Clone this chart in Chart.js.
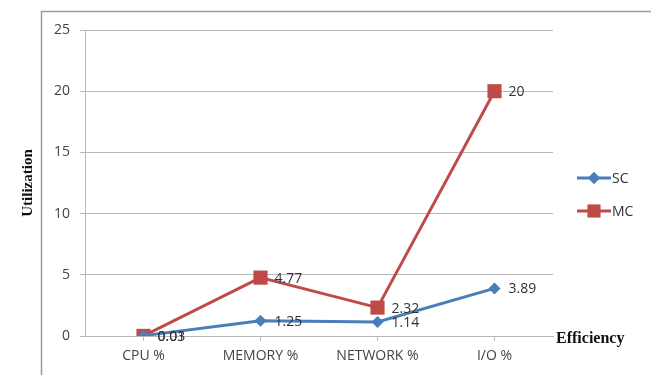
<!DOCTYPE html>
<html lang="en">
<head>
    <meta charset="UTF-8">
    <title>Utilization vs Efficiency</title>
    <script src="https://cdn.jsdelivr.net/npm/chart.js"></script>
    <style>
        html, body {
            margin: 0;
            padding: 0;
            background: #ffffff;
        }

        .chart-box {
            position: relative;
            width: 651px;
            height: 375px;
        }
    </style>
</head>
<body>
    <div class="chart-box">
        <canvas id="chart" width="651" height="375"></canvas>
    </div>

    <script>
        const categories = ["CPU %", "MEMORY %", "NETWORK %", "I/O %"];
        const scValues = [0.03, 1.25, 1.14, 3.89];
        const mcValues = [0.01, 4.77, 2.32, 20];
        const yTicks = [0, 5, 10, 15, 20, 25];

        const blue = "#4a7ebb";
        const red = "#be4b48";
        const gridColor = "#b8b8b8";
        const tickFont = { family: "'Open Sans', 'Liberation Sans', sans-serif", size: 14 };

        // frame, value labels, legend and the "Efficiency" label
        const extras = {
            id: "extras",
            beforeDraw(chart) {
                const ctx = chart.ctx;
                ctx.save();
                ctx.strokeStyle = "#9a9a9a";
                ctx.lineWidth = 1.5;
                ctx.beginPath();
                ctx.moveTo(41.5, 375);
                ctx.lineTo(41.5, 11.5);
                ctx.lineTo(651, 11.5);
                ctx.stroke();
                ctx.restore();
            },
            afterDatasetsDraw(chart) {
                const ctx = chart.ctx;
                ctx.save();
                ctx.font = "14px 'Open Sans', 'Liberation Sans', sans-serif";
                ctx.fillStyle = "#333";
                ctx.textAlign = "left";
                ctx.textBaseline = "middle";
                chart.data.datasets.forEach((ds, i) => {
                    chart.getDatasetMeta(i).data.forEach((pt, j) => {
                        ctx.fillText(ds.data[j].toFixed(ds.data[j] >= 10 ? 0 : 2), pt.x + 14, pt.y + 1);
                    });
                });

                // legend
                const items = [
                    { label: "SC", color: blue, style: "rectRot", radius: 6, y: 178 },
                    { label: "MC", color: red, style: "rect", radius: 9, y: 211 }
                ];
                items.forEach((it) => {
                    ctx.strokeStyle = it.color;
                    ctx.lineWidth = 3;
                    ctx.beginPath();
                    ctx.moveTo(577, it.y);
                    ctx.lineTo(611, it.y);
                    ctx.stroke();
                    ctx.fillStyle = it.color;
                    Chart.helpers.drawPoint(ctx, { pointStyle: it.style, radius: it.radius, rotation: 0, borderWidth: 0 }, 594, it.y);
                    ctx.fill();
                    ctx.fillStyle = "#333";
                    ctx.font = "14px 'Open Sans', 'Liberation Sans', sans-serif";
                    ctx.fillText(it.label, 612, it.y + 1);
                });

                ctx.font = "bold 16px 'Liberation Serif', 'DejaVu Serif', serif";
                ctx.fillStyle = "#111";
                ctx.fillText("Efficiency", 556, 339);
                ctx.restore();
            }
        };

        new Chart(document.getElementById("chart"), {
            type: "line",
            data: {
                labels: categories,
                datasets: [
                    {
                        label: "SC",
                        data: scValues,
                        borderColor: blue,
                        backgroundColor: blue,
                        borderWidth: 3,
                        pointStyle: "rectRot",
                        pointRadius: 6,
                        pointBorderWidth: 0,
                        tension: 0
                    },
                    {
                        label: "MC",
                        data: mcValues,
                        borderColor: red,
                        backgroundColor: red,
                        borderWidth: 3,
                        pointStyle: "rect",
                        pointRadius: 10,
                        pointBorderWidth: 0,
                        tension: 0
                    }
                ]
            },
            options: {
                responsive: false,
                animation: false,
                layout: {
                    padding: { top: 30, right: 98, bottom: 0, left: 0 }
                },
                plugins: {
                    legend: { display: false },
                    tooltip: { enabled: false }
                },
                scales: {
                    x: {
                        offset: true,
                        grid: {
                            drawOnChartArea: false,
                            drawTicks: true,
                            tickLength: 5,
                            color: gridColor
                        },
                        border: { color: gridColor },
                        ticks: {
                            font: tickFont,
                            color: "#444",
                            padding: 7,
                            autoSkip: false,
                            maxRotation: 0
                        },
                        afterFit(scale) {
                            scale.height = 39;
                        }
                    },
                    y: {
                        min: 0,
                        max: 25,
                        afterBuildTicks(scale) {
                            scale.ticks = yTicks.map((v) => ({ value: v }));
                        },
                        grid: {
                            color: gridColor,
                            tickLength: 5
                        },
                        border: { color: gridColor },
                        ticks: {
                            font: tickFont,
                            color: "#444",
                            padding: 10
                        },
                        title: {
                            display: true,
                            text: "Utilization",
                            font: { family: "'Liberation Serif', 'DejaVu Serif', serif", size: 15, weight: "bold" },
                            color: "#111",
                            padding: { top: 19, bottom: 0 }
                        },
                        afterFit(scale) {
                            scale.width = 85;
                        }
                    }
                }
            },
            plugins: [extras]
        });
    </script>
</body>
</html>
